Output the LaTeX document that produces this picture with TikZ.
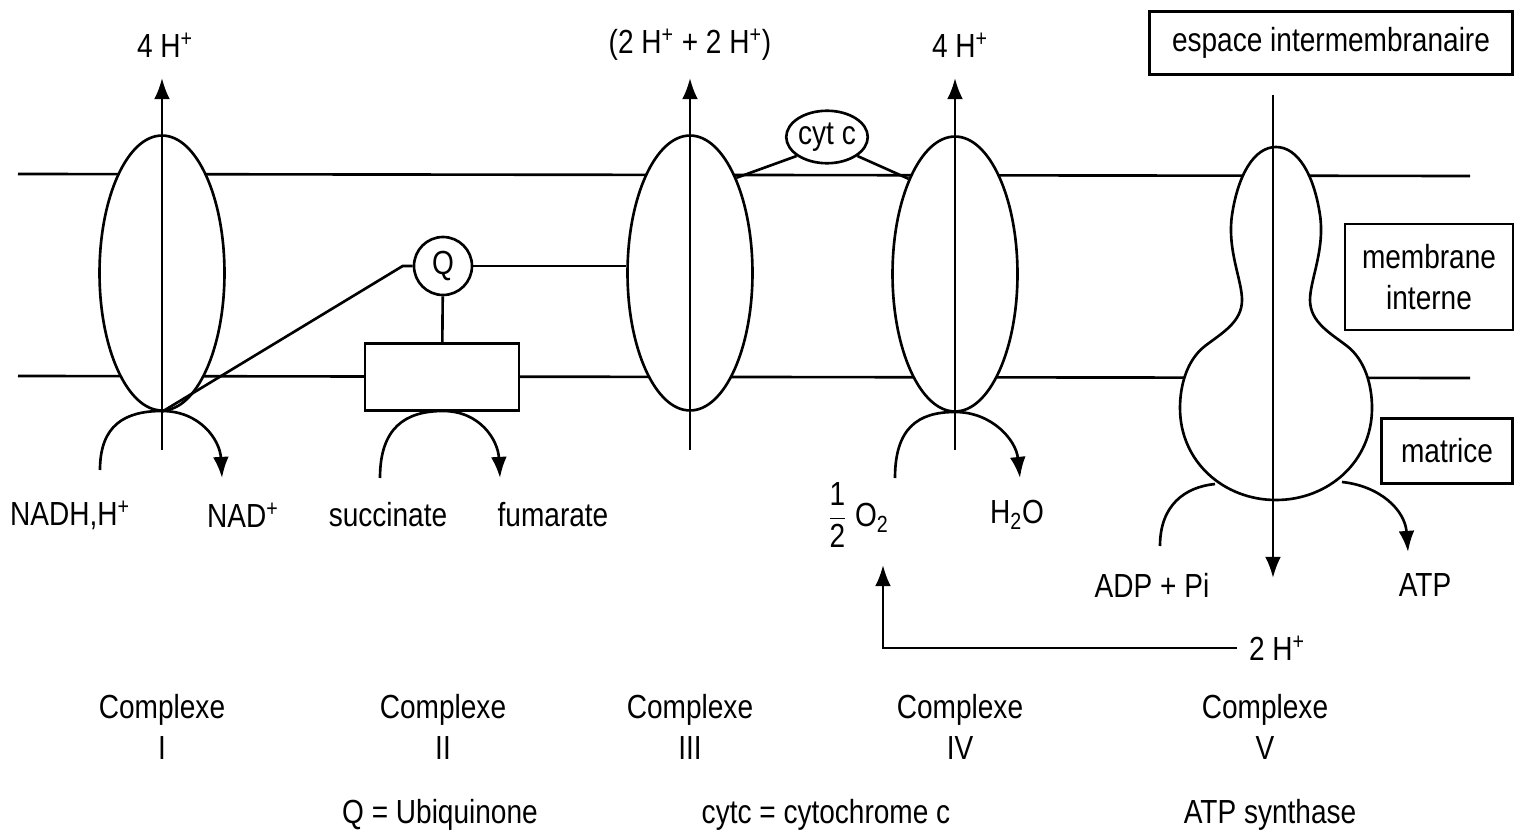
\documentclass[tikz,border=0pt]{standalone}
\usepackage{fontspec}
\setmainfont{Liberation Sans}[FakeStretch=0.84]
\usetikzlibrary{arrows.meta, positioning, calc, shapes.geometric}
\tikzset{
  cplx/.style = {draw, ellipse, fill=white, inner sep=0pt,
                 minimum width=2.5cm, minimum height=5.5cm},
  lbox/.style = {draw, rectangle, align=center, inner sep=0pt},
  arr/.style  = {-{Latex[length=12pt, width=9pt]}},
  lbl/.style  = {align=center, inner sep=1pt}
}

\begin{document}
\begin{tikzpicture}[x=0.02cm, y=-0.02cm, line width=1.5pt,
                    font=\fontsize{19}{23}\selectfont]
  \useasboundingbox (0,0) rectangle (1524,831);

  % ── Membrane ──────────────────────────────────────────────────────────────
  \coordinate (mtl) at (18,174);
  \coordinate (mtr) at (1470,176);
  \coordinate (mbl) at (18,376);
  \coordinate (mbr) at (1470,378);
  \draw (mtl) -- (mtr);
  \draw (mbl) -- (mbr);

  % ── Complexes ─────────────────────────────────────────────────────────────
  \node[cplx] (c1) at (162,273) {};
  \node[draw, fill=white, inner sep=0pt,
        minimum width=3.08cm, minimum height=1.34cm] (c2) at (442,377) {};
  \node[cplx] (c3) at (690,273) {};
  \node[cplx] (c4) at (955,274) {};
  % complexe V (ATP synthase)
  \draw[fill=white] (1276,147)
     .. controls (1298,147) and (1314,175) .. (1320,215)
     .. controls (1325,250) and (1310,280) .. (1310,300)
     .. controls (1310,322) and (1330,333) .. (1347,346)
     .. controls (1365,360) and (1372,385) .. (1372,408)
     .. controls (1372,462) and (1328,500) .. (1276,500)
     .. controls (1224,500) and (1180,462) .. (1180,408)
     .. controls (1180,385) and (1187,360) .. (1205,346)
     .. controls (1222,333) and (1242,322) .. (1242,300)
     .. controls (1242,280) and (1227,250) .. (1232,215)
     .. controls (1238,175) and (1254,147) .. (1276,147) -- cycle;

  % ── Transporteurs ─────────────────────────────────────────────────────────
  \node[draw, circle, fill=white, inner sep=0pt, minimum size=1.16cm]
        (q) at (443,266) {Q};
  \node[draw, ellipse, fill=white, inner sep=0pt,
        minimum width=1.6cm, minimum height=1.05cm] (cytc) at (827,137) {cyt c};
  \coordinate (qin) at ($(q.west)+(-10,0)$);
  \draw (c1.south) -- (qin) -- (q.west);
  \draw (q) -- (c2);
  \draw (q.east) -- (c3.west |- q.east);
  \draw (cytc.212) -- (c3.64);
  \draw (cytc.-32) -- (c4.116);

  % ── Pompes à protons ──────────────────────────────────────────────────────
  \node[lbl] (h1) at (165,45) {4 H\textsuperscript{+}};
  \node[lbl] (h3) at (690,45) {(2 H\textsuperscript{+} + 2 H\textsuperscript{+})};
  \node[lbl] (h4) at (960,45) {4 H\textsuperscript{+}};
  \coordinate (c1in)  at (162,450);  \coordinate (c1out) at (162,78);
  \coordinate (c3in)  at (690,450);  \coordinate (c3out) at (690,78);
  \coordinate (c4in)  at (955,450);  \coordinate (c4out) at (955,78);
  \coordinate (c5in)  at (1273,95);  \coordinate (c5out) at (1273,578);
  \draw[arr] (c1in) -- (c1out);
  \draw[arr] (c3in) -- (c3out);
  \draw[arr] (c4in) -- (c4out);
  \draw[arr] (c5in) -- (c5out);

  % ── Réactions (matrice) ───────────────────────────────────────────────────
  \node[lbl] (nadh) at (70,515)   {NADH,H\textsuperscript{+}};
  \node[lbl] (nad)  at (243,515)  {NAD\textsuperscript{+}};
  \node[lbl] (succ) at (388,515)  {succinate};
  \node[lbl] (fum)  at (553,515)  {fumarate};
  \node[lbl] (o2)   at (858,515)
        {$\displaystyle\frac{\mbox{1}}{\mbox{2}}$ O\textsubscript{2}};
  \node[lbl] (h2o)  at (1017,515) {H\textsubscript{2}O};
  \node[lbl] (adp)  at (1152,585) {ADP + Pi};
  \node[lbl] (atp)  at (1425,585) {ATP};
  \node[lbl] (h5)   at (1277,648) {2 H\textsuperscript{+}};

  \draw[arr] (100,470) .. controls (100,425) and (125,411) .. (162,411)
                       .. controls (200,411) and (220,440) .. (222,478);
  \draw[arr] (380,478) .. controls (380,428) and (405,411) .. (443,411)
                       .. controls (480,411) and (498,440) .. (500,478);
  \draw[arr] (895,478) .. controls (895,428) and (918,412) .. (955,412)
                       .. controls (992,412) and (1016,440) .. (1020,478);
  \draw (1160,546) .. controls (1160,505) and (1185,487) .. (1215,484);
  \draw[arr] (1342,482) .. controls (1380,486) and (1405,510) .. (1408,552);

  % 2 H+ → O2
  \coordinate (o2in) at (883,565);
  \draw[arr, shorten <=5pt] (h5.west) -| (o2in);

  % ── Légendes ──────────────────────────────────────────────────────────────
  \node[lbox, minimum width=7.26cm, minimum height=1.26cm]
        (ims) at (1331,43)  {espace intermembranaire};
  \node[lbox, minimum width=3.36cm, minimum height=2.12cm]
        (mi)  at (1429,277) {membrane\\interne};
  \node[lbox, minimum width=2.62cm, minimum height=1.3cm]
        (mx)  at (1447,451) {matrice};

  \node[lbl] (k1) at (162,727)  {Complexe\\I};
  \node[lbl] (k2) at (443,727)  {Complexe\\II};
  \node[lbl] (k3) at (690,727)  {Complexe\\III};
  \node[lbl] (k4) at (960,727)  {Complexe\\IV};
  \node[lbl] (k5) at (1265,727) {Complexe\\V};

  \node[lbl] (kq) at (440,815)  {Q = Ubiquinone};
  \node[lbl] (kc) at (826,815)  {cytc = cytochrome c};
  \node[lbl] (ka) at (1270,815) {ATP synthase};

\end{tikzpicture}
\end{document}
